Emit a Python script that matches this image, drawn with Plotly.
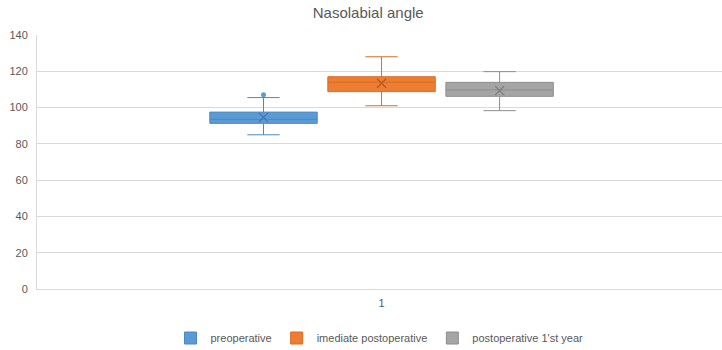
import plotly.graph_objects as go

categories = ["1"]
series_names = ["preoperative", "imediate postoperative", "postoperative 1'st year"]
lower_whisker = [85.0, 101.0, 98.3]
q1_values = [91.3, 108.8, 106.2]
median_values = [93.5, 114.0, 109.7]
q3_values = [97.5, 117.0, 113.9]
upper_whisker = [105.5, 128.0, 119.8]
mean_values = [94.6, 113.4, 109.3]
outliers = [[107.0], [], []]
y_ticks = [0, 20, 40, 60, 80, 100, 120, 140]

fill_colors = ["#5B9BD5", "#ED7D31", "#A5A5A5"]
line_colors = ["#4A89C6", "#D86C22", "#8E8E8E"]
mean_colors = ["#3F74A8", "#B9561A", "#7A7A7A"]

fig = go.Figure()
for i, name in enumerate(series_names):
    grp = f"g{i}"
    fig.add_trace(go.Box(
        name=name, x=categories,
        q1=[q1_values[i]], median=[median_values[i]], q3=[q3_values[i]],
        lowerfence=[lower_whisker[i]], upperfence=[upper_whisker[i]],
        fillcolor=fill_colors[i], line=dict(color=line_colors[i], width=1),
        whiskerwidth=0.3, offsetgroup=grp, alignmentgroup="a",
        boxpoints=False, hoverinfo="skip",
    ))
    # mean marker
    fig.add_trace(go.Box(
        name=name + " mean", x=categories, y=[mean_values[i]],
        boxpoints="all", pointpos=0, jitter=0,
        fillcolor="rgba(0,0,0,0)", line=dict(width=0, color="rgba(0,0,0,0)"),
        marker=dict(symbol="x-thin-open", size=9, color=mean_colors[i],
                    line=dict(width=1.2, color=mean_colors[i])),
        offsetgroup=grp, alignmentgroup="a", showlegend=False, hoverinfo="skip",
    ))
    if outliers[i]:
        fig.add_trace(go.Box(
            name=name + " outlier", x=categories * len(outliers[i]), y=outliers[i],
            boxpoints="all", pointpos=0, jitter=0,
            fillcolor="rgba(0,0,0,0)", line=dict(width=0, color="rgba(0,0,0,0)"),
            marker=dict(symbol="circle", size=5, color=fill_colors[i]),
            offsetgroup=grp, alignmentgroup="a", showlegend=False, hoverinfo="skip",
        ))

fig.update_layout(
    width=722, height=350,
    margin=dict(l=37, r=0, t=35, b=61, autoexpand=False),
    paper_bgcolor="white", plot_bgcolor="white",
    font=dict(family="Liberation Sans, Arial, sans-serif", size=11, color="#595959"),
    title=dict(text="Nasolabial angle", x=0.51, xanchor="center", y=0.965, yanchor="middle",
               font=dict(size=15, color="#595959")),
    boxmode="group", boxgap=0.483, boxgroupgap=0.09,
    showlegend=True,
    legend=dict(orientation="h", x=0.5, xanchor="center", y=-0.193, yanchor="middle",
                font=dict(size=11, color="#595959"), itemwidth=30,
                traceorder="normal"),
    xaxis=dict(type="category", range=[-0.503, 0.497], showgrid=False, automargin=False,
               showline=True, linecolor="#D9D9D9", linewidth=1, ticks="",
               tickfont=dict(color="#595959"),
               ticklabelstandoff=4, zeroline=False),
    yaxis=dict(range=[0, 140], tickvals=y_ticks, showgrid=True, gridcolor="#D9D9D9",
               gridwidth=1, showline=True, linecolor="#D9D9D9", ticks="", automargin=False,
               tickfont=dict(color="#595959"),
               ticklabelstandoff=6, zeroline=False),
)

fig.write_html("out.html", config={"displayModeBar": False},
               post_script="document.body.style.margin='0';")
